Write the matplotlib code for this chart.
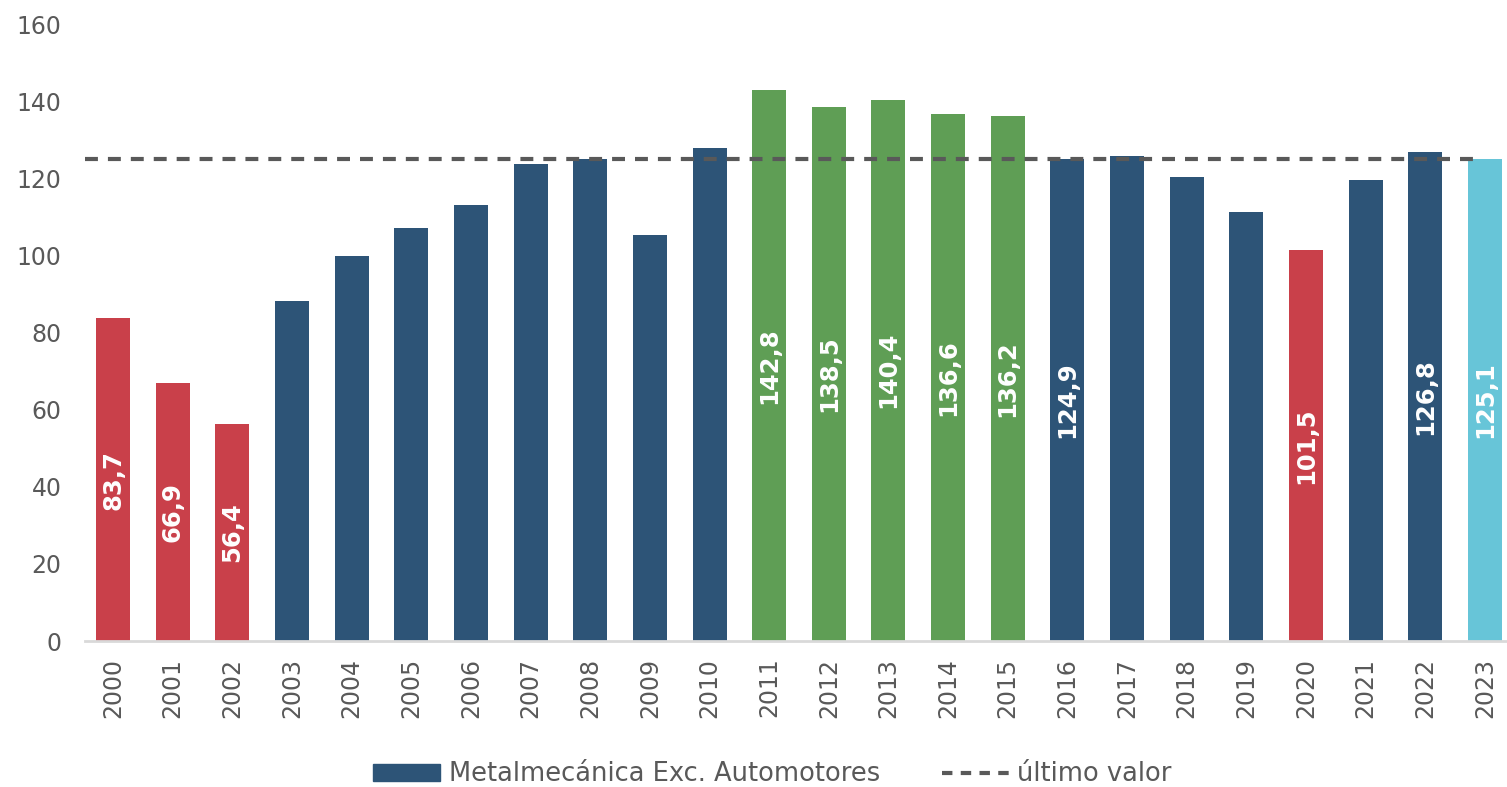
import matplotlib
matplotlib.use("Agg")
import matplotlib.pyplot as plt
from matplotlib.patches import Patch
from matplotlib.lines import Line2D

# datos
anios = [str(a) for a in range(2000, 2024)]
valores = [83.7, 66.9, 56.4, 88.2, 99.8, 107.1, 113.1, 123.7, 124.9, 105.4,
           127.8, 142.8, 138.5, 140.4, 136.6, 136.2, 124.9, 125.7, 120.4, 111.3,
           101.5, 119.5, 126.8, 125.1]
grupos = ['rojo', 'rojo', 'rojo', 'azul', 'azul', 'azul', 'azul', 'azul', 'azul', 'azul',
          'azul', 'verde', 'verde', 'verde', 'verde', 'verde', 'azul', 'azul', 'azul', 'azul',
          'rojo', 'azul', 'azul', 'celeste']
etiquetados = ['2000', '2001', '2002', '2011', '2012', '2013', '2014', '2015',
               '2016', '2020', '2022', '2023']
ultimo_valor = 125.1

colores = {'rojo': '#C9404A', 'azul': '#2D5477', 'verde': '#5F9E55', 'celeste': '#67C5D8'}
gris = '#595959'

fig = plt.figure(figsize=(15.07, 7.87), dpi=100)
ax = fig.add_axes([0.0564, 0.1855, 0.9436, 0.784])

x = list(range(len(anios)))
ax.bar(x, valores, width=0.57, color=[colores[g] for g in grupos], zorder=2)

# línea del último valor
ax.plot([-0.47, len(anios) - 1.1], [ultimo_valor, ultimo_valor], ls=(0, (3.1, 2.4)),
        color=gris, lw=3, zorder=3)

# etiquetas dentro de las barras
for i, (a, v) in enumerate(zip(anios, valores)):
    if a in etiquetados:
        ax.text(i, v / 2, f"{v:.1f}".replace('.', ','), rotation=90, ha='center', va='center',
                color='white', fontsize=17.5, fontweight='bold', zorder=4)

ax.set_xlim(-0.47, 23.37)
ax.set_ylim(0, 160)
ax.set_yticks(range(0, 161, 20))
ax.set_xticks(x)
ax.set_xticklabels(anios, rotation=90)
ax.tick_params(axis='both', length=0, labelsize=17, labelcolor=gris)
ax.tick_params(axis='x', pad=12)
ax.tick_params(axis='y', pad=17)

for lado in ['top', 'right', 'left']:
    ax.spines[lado].set_visible(False)
ax.spines['bottom'].set_color('#D9D9D9')
ax.spines['bottom'].set_linewidth(2)

handles = [Patch(color=colores['azul']),
           Line2D([0], [0], color=gris, lw=3, ls=(0, (2.5, 2)))]
fig.legend(handles, ['Metalmecánica Exc. Automotores', 'último valor'],
           loc='center', bbox_to_anchor=(0.5126, 0.016), ncol=2, frameon=False,
           fontsize=18.5, labelcolor=gris, handlelength=2.6, handleheight=0.6,
           columnspacing=2.4, handletextpad=0.35)

fig.savefig('out.png', dpi=100)
